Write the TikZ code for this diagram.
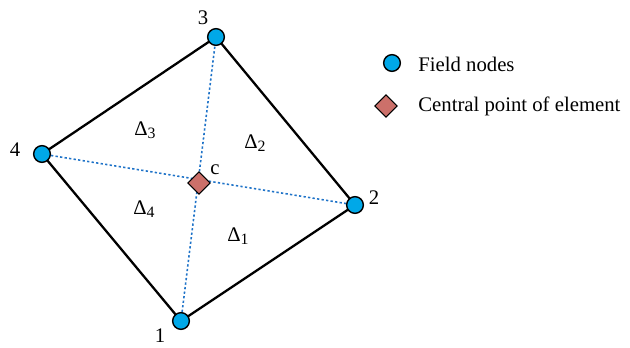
\documentclass[tikz,border=0pt]{standalone}
\usepackage{fontspec}
\setmainfont{Liberation Serif}
\usepackage{xcolor}
\usetikzlibrary{shapes.geometric}
\definecolor{nodeblue}{HTML}{00A8E8}
\definecolor{dotblue}{HTML}{1F73C8}
\definecolor{centerred}{HTML}{CC706A}

\tikzset{
  fieldnode/.style={circle, draw=black, fill=nodeblue, line width=0.8pt, minimum size=9.5pt, inner sep=0pt},
  centerpt/.style={diamond, draw=black, fill=centerred, line width=0.6pt, minimum size=13pt, inner sep=0pt},
  edge/.style={line width=1.3pt, black},
  diag/.style={dotblue, line width=0.9pt, dash pattern=on 1.3pt off 1.3pt},
  lbl/.style={font=\fontsize{11.8}{14}\selectfont, inner sep=0pt}
}
\newcommand{\tri}[1]{Δ\raisebox{-0.3ex}{\fontsize{9}{10}\selectfont #1}}

\begin{document}
\begin{tikzpicture}[x=0.02cm, y=-0.02cm]
\useasboundingbox (0,0) rectangle (630,348);

% corners of the element
\coordinate (p1) at (181,321);
\coordinate (p2) at (355,205);
\coordinate (p3) at (216,37);
\coordinate (p4) at (42,154);

\draw[edge] (p1) -- (p2) -- (p3) -- (p4) -- cycle;
\draw[diag] (p1) -- (p3);
\draw[diag] (p4) -- (p2);

\node[centerpt] (c) at (199,183) {};
\node[lbl] (clbl) at (215,170) {c};

\foreach \i in {1,...,4}
  \node[fieldnode] (n\i) at (p\i) {};

\node[lbl] (l1) at (160,336) {1};
\node[lbl] (l2) at (374,198) {2};
\node[lbl] (l3) at (203,18) {3};
\node[lbl] (l4) at (15,150) {4};

% sub-triangles
\node[lbl] (d1) at (238,236) {\tri{1}};
\node[lbl] (d2) at (255,143) {\tri{2}};
\node[lbl] (d3) at (145,130) {\tri{3}};
\node[lbl] (d4) at (144,209) {\tri{4}};

% legend
\node[fieldnode] (leg1) at (392,63) {};
\node[lbl, anchor=west] (leg1t) at (418,64) {Field nodes};
\node[centerpt] (leg2) at (386,106) {};
\node[lbl, anchor=west] (leg2t) at (418,106) {Central point of element};
\end{tikzpicture}
\end{document}
